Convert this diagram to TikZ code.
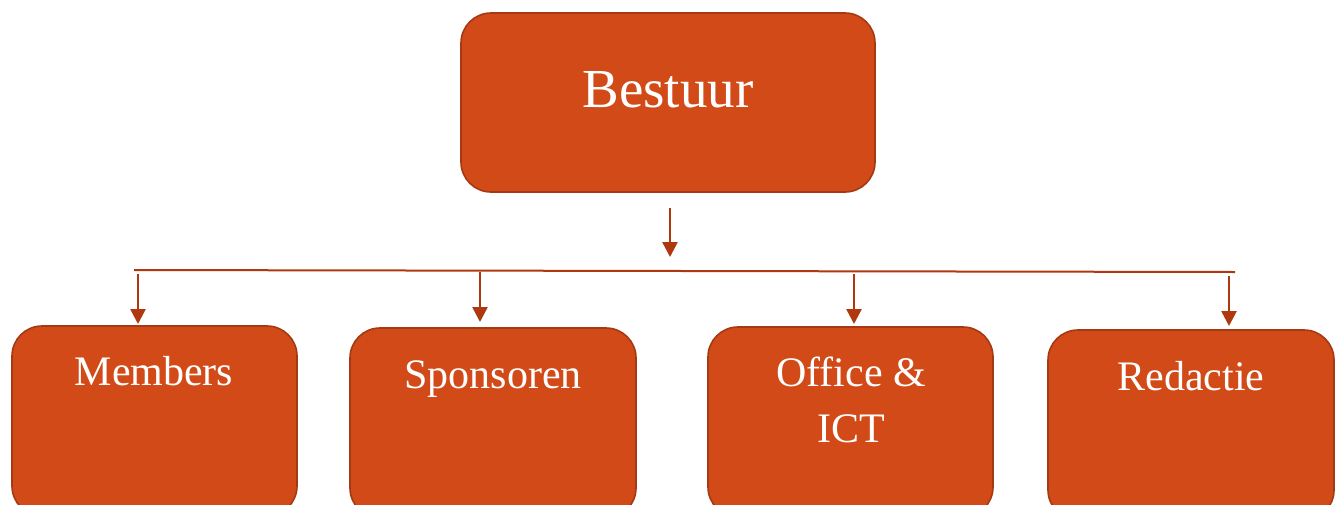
\documentclass[tikz,border=0pt]{standalone}
\usepackage{fontspec}
\setmainfont{Liberation Serif}
\usetikzlibrary{arrows.meta}
\definecolor{boxfill}{HTML}{D14A17}
\definecolor{boxline}{HTML}{A53A12}
\definecolor{arrcol}{HTML}{B0380E}
\begin{document}
\begin{tikzpicture}[x=1pt,y=-1pt,
  box/.style={draw=boxline, fill=boxfill, line width=1.6pt, rounded corners=30pt, inner sep=0pt, outer sep=0pt, anchor=north west},
  bigtxt/.style={text=white, font=\fontsize{55}{60}\selectfont, anchor=base, inner sep=0pt},
  smalltxt/.style={text=white, font=\fontsize{42}{56}\selectfont, anchor=base, inner sep=0pt, align=center},
  arr/.style={draw=arrcol, line width=2.6pt, -{Triangle[length=15pt,width=15pt]}},
  bus/.style={draw=arrcol, line width=2pt}]
\useasboundingbox (0,0) rectangle (1341,504);
\clip (0,0) rectangle (1341,504);
\fill[white] (0,0) rectangle (1341,504);
% boxes
\node[box, minimum width=414pt, minimum height=179pt] (bestuur) at (461,13) {};
\node[box, minimum width=285pt, minimum height=190pt] (members) at (12,326) {};
\node[box, minimum width=286pt, minimum height=190pt] (sponsoren) at (350,328) {};
\node[box, minimum width=285pt, minimum height=190pt] (office) at (708,327) {};
\node[box, minimum width=286pt, minimum height=190pt] (redactie) at (1048,330) {};
% texts
\node[bigtxt] (tbestuur) at (668,107) {Bestuur};
\node[smalltxt] (tmembers) at (154,385) {Members};
\node[smalltxt] (tsponsoren) at (493,388) {Sponsoren};
\node[smalltxt] (toffice) at (851,386) {Office \&};
\node[smalltxt] (tict) at (851,442) {ICT};
\node[smalltxt] (tredactie) at (1191,390) {Redactie};
% bus line
\coordinate (busL) at (134,270);
\coordinate (busR) at (1235,272);
\draw[bus] (busL) -- (busR);
% arrows
\coordinate (top1) at (670,208);
\coordinate (top2) at (670,257);
\draw[arr] (top1) -- (top2);
\coordinate (a1) at (138,274);
\coordinate (a2) at (480,272);
\coordinate (a3) at (854,274);
\coordinate (a4) at (1229,276);
\draw[arr, shorten >=2pt] (a1) -- (a1 |- members.north);
\draw[arr, shorten >=6pt] (a2) -- (a2 |- sponsoren.north);
\draw[arr, shorten >=3pt] (a3) -- (a3 |- office.north);
\draw[arr, shorten >=4pt] (a4) -- (a4 |- redactie.north);
\end{tikzpicture}
\end{document}
